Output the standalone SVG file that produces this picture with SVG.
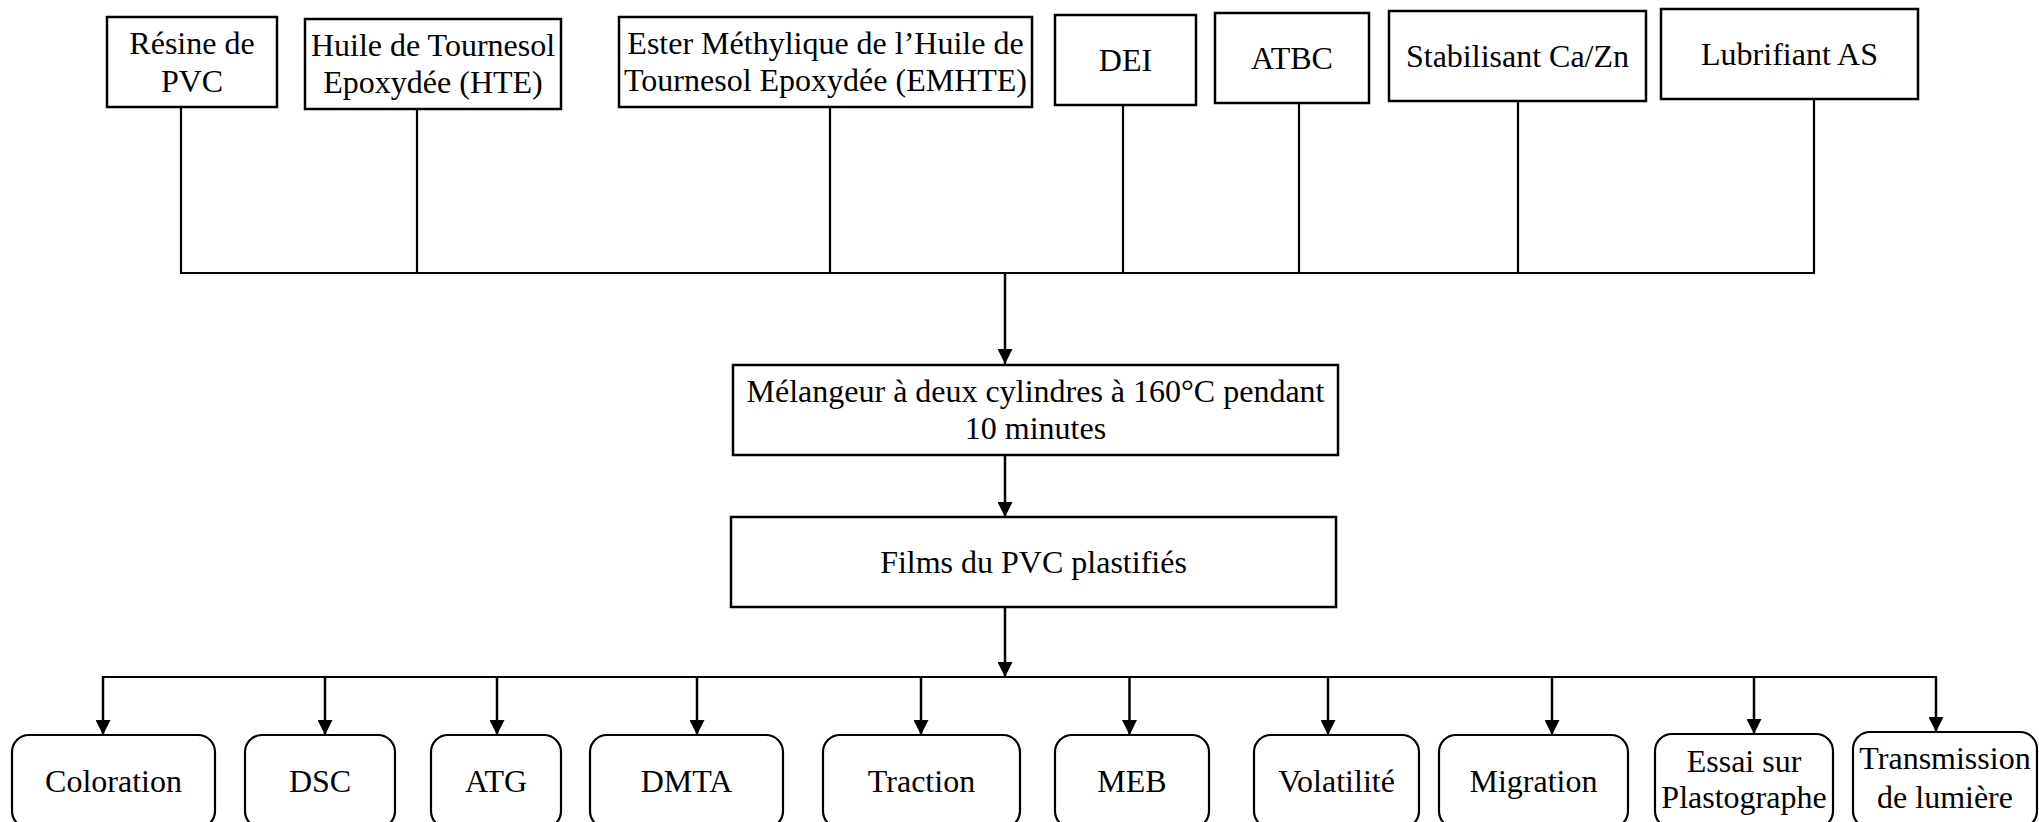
<svg xmlns="http://www.w3.org/2000/svg" width="2039" height="822" viewBox="0 0 2039 822">
<style>
.box{fill:#fff;stroke:#000;stroke-width:2.5}
.rbox{fill:#fff;stroke:#000;stroke-width:2.2}
.t{font-family:"Liberation Serif","Times New Roman",serif;font-size:32px;fill:#000;text-anchor:middle}
.ln{fill:none;stroke:#000;stroke-width:2.2}
.ar{fill:none;stroke:#000;stroke-width:2.5;marker-end:url(#ah)}
</style>
<defs>
<marker id="ah" markerUnits="userSpaceOnUse" markerWidth="15" markerHeight="15" refX="15" refY="7.5" orient="auto">
<path d="M0,0 L15,7.5 L0,15 Z" fill="#000"/>
</marker>
</defs>
<rect width="2039" height="822" fill="#fff"/>
<g id="connectors">
<line class="ln" x1="181" y1="107" x2="181" y2="273"/>
<line class="ln" x1="417" y1="109" x2="417" y2="273"/>
<line class="ln" x1="830" y1="107" x2="830" y2="273"/>
<line class="ln" x1="1123" y1="105" x2="1123" y2="273"/>
<line class="ln" x1="1299" y1="103" x2="1299" y2="273"/>
<line class="ln" x1="1518" y1="101" x2="1518" y2="273"/>
<line class="ln" x1="1814" y1="99" x2="1814" y2="273"/>
<line class="ln" x1="180" y1="273" x2="1815" y2="273"/>
<line class="ar" x1="1005" y1="273" x2="1005" y2="364"/>
<line class="ar" x1="1005" y1="455" x2="1005" y2="517"/>
<line class="ar" x1="1005" y1="607" x2="1005" y2="677"/>
<line class="ln" x1="102" y1="677" x2="1937" y2="677"/>
<line class="ar" x1="103" y1="677" x2="103" y2="735"/>
<line class="ar" x1="325" y1="677" x2="325" y2="735"/>
<line class="ar" x1="497" y1="677" x2="497" y2="735"/>
<line class="ar" x1="697" y1="677" x2="697" y2="735"/>
<line class="ar" x1="921" y1="677" x2="921" y2="735"/>
<line class="ar" x1="1129.5" y1="677" x2="1129.5" y2="735"/>
<line class="ar" x1="1328" y1="677" x2="1328" y2="735"/>
<line class="ar" x1="1552" y1="677" x2="1552" y2="735"/>
<line class="ar" x1="1754" y1="677" x2="1754" y2="734"/>
<line class="ar" x1="1936" y1="677" x2="1936" y2="732"/>
</g>
<g id="n-resine"><rect class="box" x="107" y="17" width="170" height="90"/><text class="t" x="192" y="54">Résine de</text><text class="t" x="192" y="91.5">PVC</text></g>
<g id="n-hte"><rect class="box" x="305" y="19" width="256" height="90"/><text class="t" x="433" y="55.5">Huile de Tournesol</text><text class="t" x="433" y="93">Epoxydée (HTE)</text></g>
<g id="n-emhte"><rect class="box" x="619" y="17" width="413" height="90"/><text class="t" x="825.5" y="53.5">Ester Méthylique de l’Huile de</text><text class="t" x="825.5" y="91">Tournesol Epoxydée (EMHTE)</text></g>
<g id="n-dei"><rect class="box" x="1055" y="15" width="141" height="90"/><text class="t" x="1125.5" y="71">DEI</text></g>
<g id="n-atbc"><rect class="box" x="1215" y="13" width="154" height="90"/><text class="t" x="1292" y="69">ATBC</text></g>
<g id="n-stab"><rect class="box" x="1389" y="11" width="257" height="90"/><text class="t" x="1517.5" y="66.5">Stabilisant Ca/Zn</text></g>
<g id="n-lub"><rect class="box" x="1661" y="9" width="257" height="90"/><text class="t" x="1789.5" y="65">Lubrifiant AS</text></g>
<g id="n-mel"><rect class="box" x="733" y="365" width="605" height="90"/><text class="t" x="1035.5" y="402">Mélangeur à deux cylindres à 160°C pendant</text><text class="t" x="1035.5" y="439">10 minutes</text></g>
<g id="n-films"><rect class="box" x="731" y="517" width="605" height="90"/><text class="t" x="1033.5" y="573">Films du PVC plastifiés</text></g>
<g id="n-color"><rect class="rbox" x="12" y="735" width="203" height="93" rx="17"/><text class="t" x="113.5" y="792">Coloration</text></g>
<g id="n-dsc"><rect class="rbox" x="245" y="735" width="150" height="93" rx="17"/><text class="t" x="320" y="792">DSC</text></g>
<g id="n-atg"><rect class="rbox" x="431" y="735" width="130" height="93" rx="17"/><text class="t" x="496" y="792">ATG</text></g>
<g id="n-dmta"><rect class="rbox" x="590" y="735" width="193" height="93" rx="17"/><text class="t" x="686.5" y="792">DMTA</text></g>
<g id="n-traction"><rect class="rbox" x="823" y="735" width="197" height="93" rx="17"/><text class="t" x="921.5" y="792">Traction</text></g>
<g id="n-meb"><rect class="rbox" x="1055" y="735" width="154" height="93" rx="17"/><text class="t" x="1132" y="792">MEB</text></g>
<g id="n-vol"><rect class="rbox" x="1254" y="735" width="165" height="93" rx="17"/><text class="t" x="1336.5" y="792">Volatilité</text></g>
<g id="n-mig"><rect class="rbox" x="1439" y="735" width="189" height="93" rx="17"/><text class="t" x="1533.5" y="792">Migration</text></g>
<g id="n-essai"><rect class="rbox" x="1655" y="734" width="178" height="94" rx="17"/><text class="t" x="1744" y="771.5">Essai sur</text><text class="t" x="1744" y="808">Plastographe</text></g>
<g id="n-trans"><rect class="rbox" x="1853" y="732" width="184" height="96" rx="17"/><text class="t" x="1945" y="769">Transmission</text><text class="t" x="1945" y="808">de lumière</text></g>
</svg>
